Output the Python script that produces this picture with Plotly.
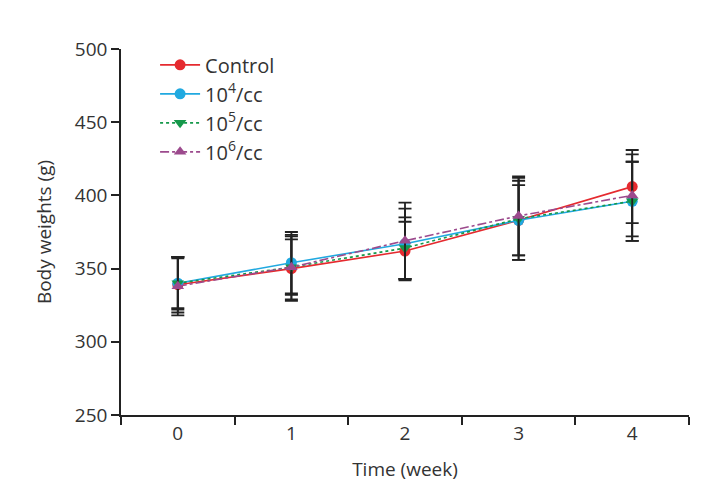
import plotly.graph_objects as go

weeks = ["0", "1", "2", "3", "4"]
series_names = ["Control", "10<sup>4</sup>/cc", "10<sup>5</sup>/cc", "10<sup>6</sup>/cc"]
control = [339, 350, 362, 383, 406]
control_sd = [19, 22, 20, 27, 25]
cc4 = [340, 354, 367, 383, 396]
cc4_sd = [17, 21, 24, 24, 27]
cc5 = [340, 351, 364, 384, 396]
cc5_sd = [18, 22, 21, 28, 27]
cc6 = [338, 351, 369, 386, 400]
cc6_sd = [20, 19, 26, 27, 28]

colors = ["#e52a2f", "#20a9e0", "#15984a", "#9c4a8d"]
dashes = ["solid", "solid", "dot", "dashdot"]
symbols = ["circle", "circle", "triangle-down", "triangle-up"]
values = [control, cc4, cc5, cc6]
sds = [control_sd, cc4_sd, cc5_sd, cc6_sd]

font_family = "'Open Sans', Lato, sans-serif"

fig = go.Figure()
for name, v, sd, c, d, s in zip(series_names, values, sds, colors, dashes, symbols):
    fig.add_trace(go.Scatter(
        x=weeks, y=v, name=name, mode="lines+markers",
        line=dict(color=c, width=1.6, dash=d),
        marker=dict(color=c, size=11, symbol=s),
        error_y=dict(type="data", array=sd, visible=True, color="#222222",
                     thickness=1.8, width=6.5),
    ))

fig.update_layout(
    width=715, height=488,
    margin=dict(l=113, r=34, t=41, b=81, autoexpand=False),
    paper_bgcolor="white", plot_bgcolor="white",
    font=dict(family=font_family, size=19, color="#333333"),
    showlegend=True,
    legend=dict(x=0.06, y=1.01, xanchor="left", yanchor="top",
                bgcolor="rgba(0,0,0,0)", font=dict(size=20),
                itemwidth=40, tracegroupgap=0),
    xaxis=dict(
        type="category", range=[-0.5, 4.5], automargin=False,
        showline=True, linecolor="#222222", linewidth=1.5,
        ticks="outside", ticklen=8, tickcolor="#222222", tickwidth=1.5,
        tickson="boundaries", showgrid=False, zeroline=False,
        title=dict(text="Time (week)", standoff=18, font=dict(size=19)),
        tickfont=dict(size=19),
    ),
    yaxis=dict(
        range=[250, 500], dtick=50, tick0=250, automargin=False,
        showline=True, linecolor="#222222", linewidth=1.5,
        ticks="outside", ticklen=8, tickcolor="#222222", tickwidth=1.5,
        showgrid=False, zeroline=False,
        title=dict(text="Body weights (g)", standoff=18, font=dict(size=19)),
        tickfont=dict(size=19),
    ),
)

fig.write_html("out.html")
